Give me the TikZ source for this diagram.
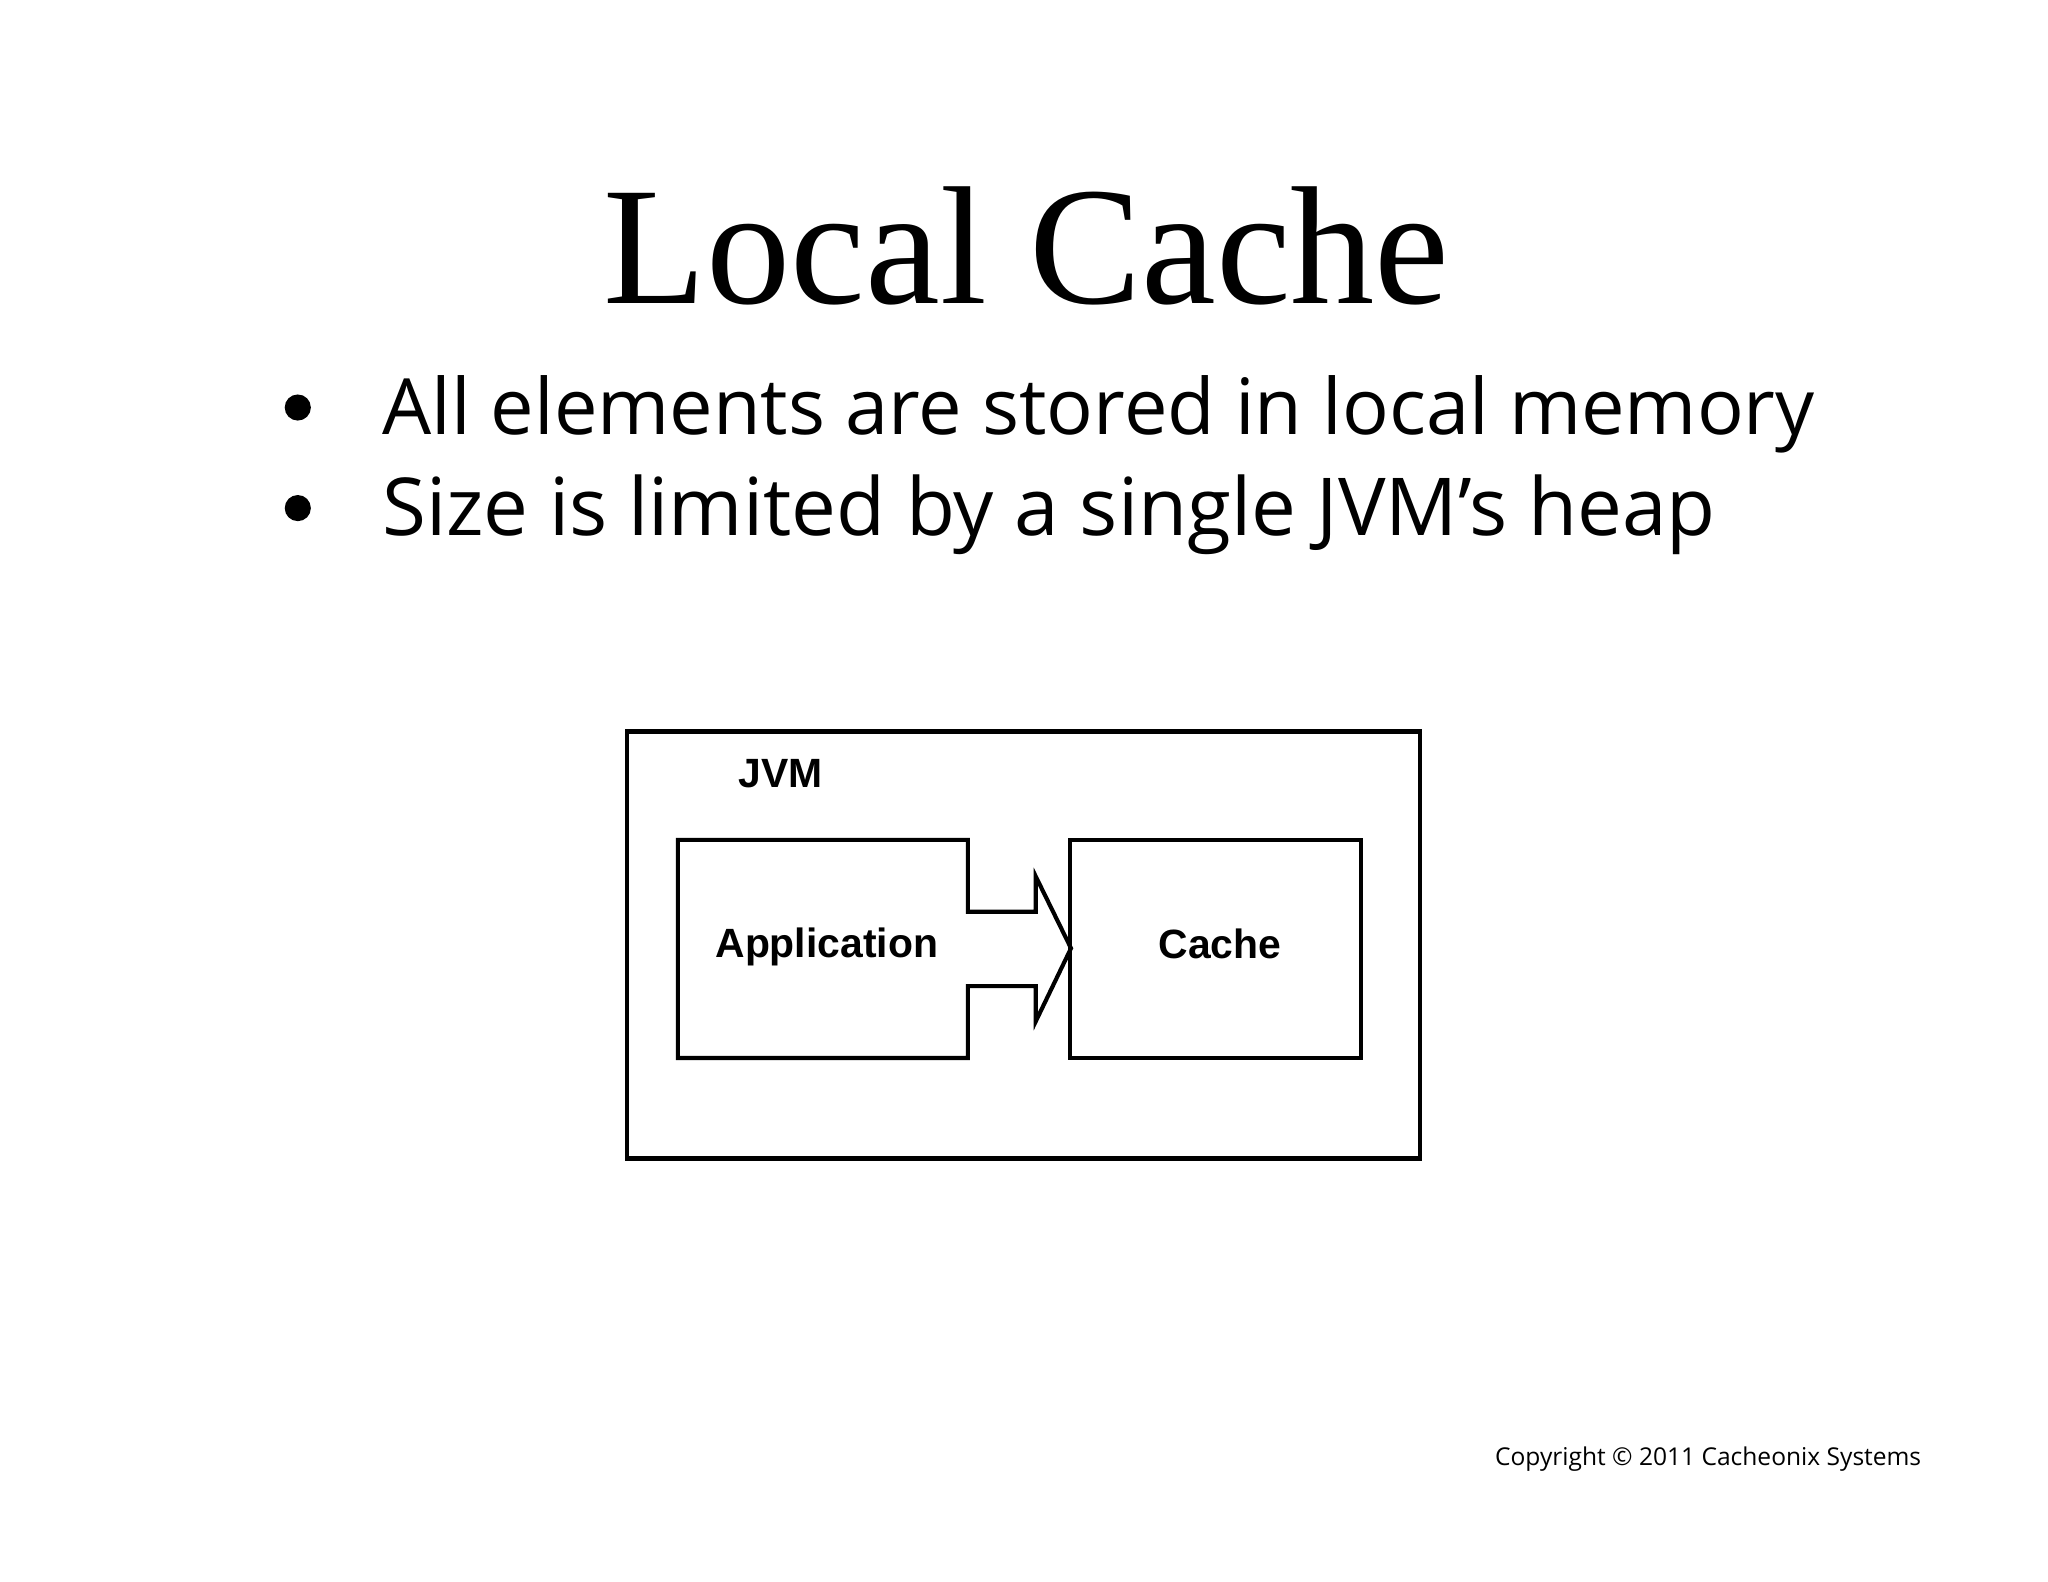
\documentclass[tikz,border=0pt]{standalone}
\usepackage{fontspec}
\setmainfont{Liberation Serif}
\newfontfamily\bulf{Open Sans}
\newfontfamily\arl{Liberation Sans}
\begin{document}
\begin{tikzpicture}[x=0.01cm,y=-0.01cm,
  shp/.style={draw=black,line width=0.9pt},
  lbl/.style={font=\arl\bfseries\fontsize{8.9}{10}\selectfont,inner sep=0pt}]
\useasboundingbox (0,0) rectangle (1568,1211);
\node[inner sep=0pt,anchor=base] (title) at (786,232) {\resizebox{6.47cm}{!}{Local Cache}};
\node[inner sep=0pt,anchor=base west] (b1) at (292,333) {\resizebox{10.96cm}{!}{\bulf All elements are stored in local memory}};
\node[inner sep=0pt,anchor=base west] (b2) at (292,410) {\resizebox{10.2cm}{!}{\bulf Size is limited by a single JVM’s heap}};
\fill (228,312) circle (10) coordinate (d1);
\fill (228,389) circle (10) coordinate (d2);
\draw[shp] (480,560) rectangle (1087,887);
\node[lbl,anchor=base west] (jvm) at (565,603) {JVM};
\draw[shp] (519,643)--(741,643)--(741,698)--(793,698)--(793,671)--(820,726)--(793,782)--(793,755)--(741,755)--(741,810)--(519,810)--cycle;
\node[lbl] (app) at (633,725) {Application};
\draw[shp] (819,643) rectangle (1042,810);
\node[lbl] (cache) at (934,723) {Cache};
\node[inner sep=0pt,anchor=base west] (copy) at (1144,1122) {\resizebox{3.26cm}{!}{\bulf Copyright © 2011 Cacheonix Systems}};
\end{tikzpicture}
\end{document}
